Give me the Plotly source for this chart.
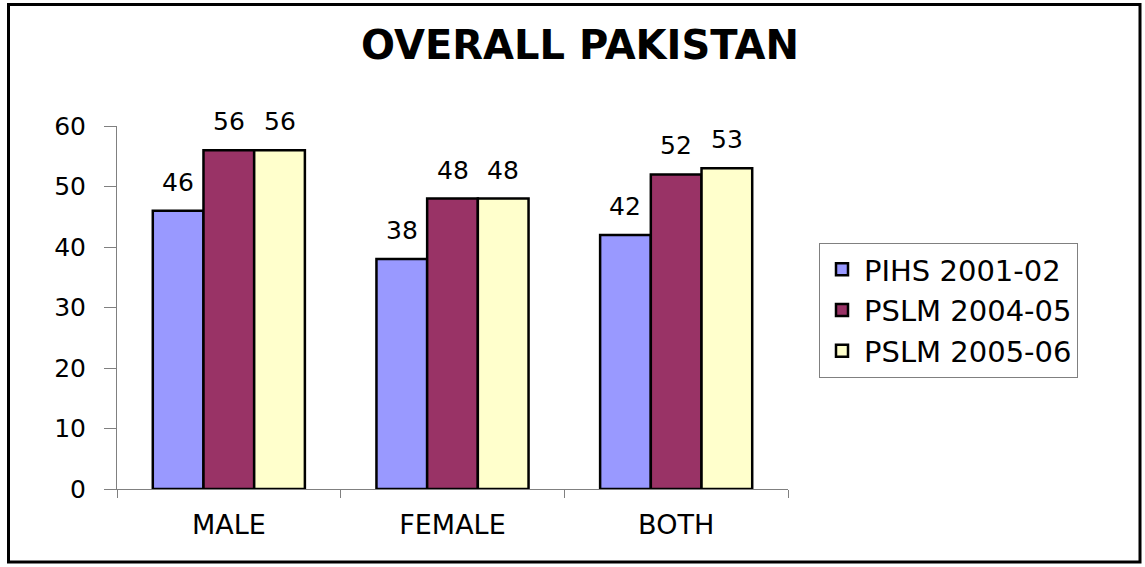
import plotly.graph_objects as go

categories = ["MALE", "FEMALE", "BOTH"]
series_names = ["PIHS 2001-02", "PSLM 2004-05", "PSLM 2005-06"]
pihs_2001_02 = [46, 38, 42]
pslm_2004_05 = [56, 48, 52]
pslm_2005_06 = [56, 48, 53]
y_ticks = [0, 10, 20, 30, 40, 50, 60]

colors = ["#9999FF", "#993366", "#FFFFCC"]
FONT = "'DejaVu Sans', Arial, sans-serif"
BARGAP = 0.32

W, H = 1145, 567
L, R, T, B = 117, 788, 126, 489
pw, ph = R - L, B - T

def px(x):
    return (x - L) / pw

def py(y):
    return (B - y) / ph

all_series = [pihs_2001_02, pslm_2004_05, pslm_2005_06]
fig = go.Figure()
for name, vals, col in zip(series_names, all_series, colors):
    fig.add_trace(go.Bar(
        x=categories, y=vals, name=name,
        marker=dict(color=col, line=dict(color="black", width=2.5)),
    ))

# value labels centered over each bar
cat_w = pw / len(categories)
bar_w = cat_w * (1 - BARGAP) / len(all_series)
annotations = []
for si, vals in enumerate(all_series):
    off = (si - (len(all_series) - 1) / 2) * bar_w
    for c, v in zip(categories, vals):
        annotations.append(dict(
            x=c, y=v, xref="x", yref="y", text=str(v), showarrow=False,
            xanchor="center", yanchor="bottom", xshift=off, yshift=12,
            font=dict(size=25, family=FONT, color="black"),
        ))

fig.update_layout(
    width=W, height=H,
    margin=dict(l=L, r=W - R, t=T, b=H - B, autoexpand=False),
    paper_bgcolor="white", plot_bgcolor="white",
    barmode="group", bargap=BARGAP, bargroupgap=0,
    font=dict(family=FONT, color="black", size=24),
    title=dict(text="<b>OVERALL PAKISTAN</b>", x=580 / W, xanchor="center",
               y=1 - 45 / H, yanchor="middle",
               font=dict(size=40, family=FONT, color="black")),
    legend=dict(x=px(819), y=py(243), xanchor="left", yanchor="top",
                bordercolor="#808080", borderwidth=1, bgcolor="white",
                font=dict(size=29, family=FONT, color="black"),
                traceorder="normal", itemwidth=34),
    showlegend=True,
    annotations=annotations,
)
fig.update_yaxes(range=[0, 60], tickvals=y_ticks, showgrid=False, zeroline=False,
                 showline=True, linecolor="#808080", linewidth=1,
                 ticks="outside", ticklen=12, tickcolor="#808080",
                 tickfont=dict(size=25, family=FONT, color="black"),
                 ticklabelstandoff=13)
fig.update_xaxes(showgrid=False, showline=True, linecolor="#808080", linewidth=1,
                 ticks="outside", ticklen=8, tickcolor="#808080", tickson="boundaries",
                 tickfont=dict(size=27, family=FONT, color="black"),
                 ticklabelstandoff=12)

fig.add_shape(type="rect", xref="paper", yref="paper",
              x0=px(8.5), x1=px(1140), y0=py(562), y1=py(4.5),
              line=dict(color="black", width=3), layer="below")

fig.write_html("out.html", config={"displayModeBar": False},
               post_script="document.body.style.margin='0';")
